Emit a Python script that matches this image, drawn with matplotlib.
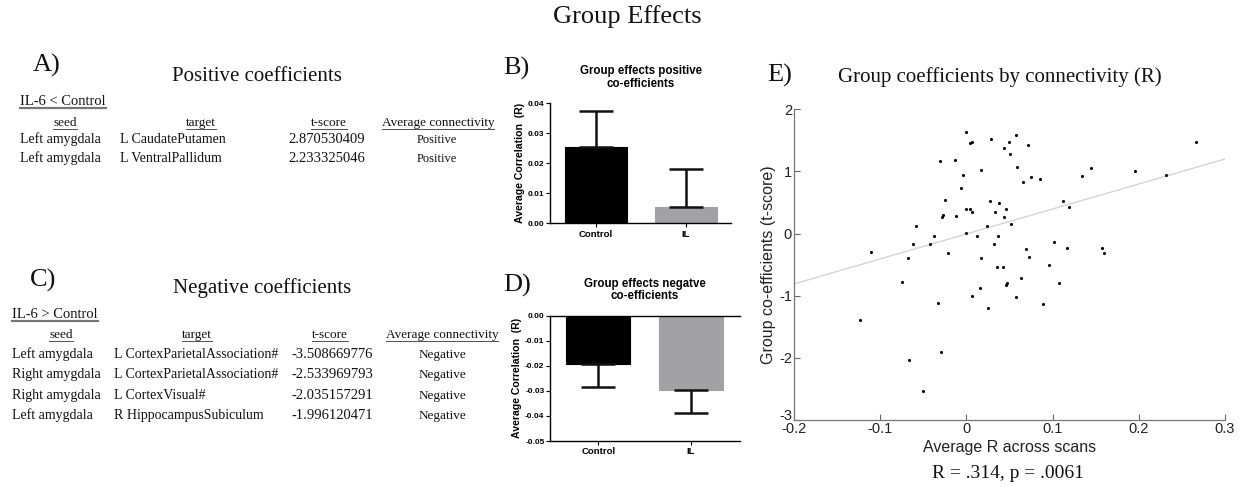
import matplotlib
matplotlib.use("Agg")
import matplotlib.pyplot as plt
from matplotlib.lines import Line2D
import matplotlib.transforms as mtransforms
import numpy as np

W, H = 1245, 487
DPI = 100

# ---------------- data ----------------
pos_group = "IL-6 < Control"
pos_headers = ["seed", "target", "t-score", "Average connectivity"]
pos_seed = ["Left amygdala", "Left amygdala"]
pos_target = ["L CaudatePutamen", "L VentralPallidum"]
pos_t = ["2.870530409", "2.233325046"]
pos_conn = ["Positive", "Positive"]

neg_group = "IL-6 > Control"
neg_seed = ["Left amygdala", "Right amygdala", "Right amygdala", "Left amygdala"]
neg_target = ["L CortexParietalAssociation#", "L CortexParietalAssociation#",
              "L CortexVisual#", "R HippocampusSubiculum"]
neg_t = ["-3.508669776", "-2.533969793", "-2.035157291", "-1.996120471"]
neg_conn = ["Negative", "Negative", "Negative", "Negative"]

bar_groups = ["Control", "IL"]
pos_means = [0.0253, 0.0054]
pos_err = [0.0121, 0.0128]
neg_means = [-0.0193, -0.0297]
neg_err = [0.0093, 0.0093]

scatter_x = [-0.111, -0.068, -0.075, -0.062, -0.059, -0.042, -0.038, -0.031, -0.028, -0.027,
             -0.025, -0.021, -0.013, -0.012, -0.006, -0.004, -0.001, -0.001, -0.001, 0.004,
             0.006, 0.004, 0.007, 0.012, 0.016, 0.017, 0.017, 0.024, 0.027, 0.028,
             0.032, 0.033, 0.036, 0.037, 0.038, 0.043, 0.044, 0.044, 0.046, 0.047,
             0.046, 0.049, 0.051, 0.052, 0.057, 0.059, 0.063, 0.066, 0.069, 0.071,
             0.073, 0.075, 0.085, 0.096, 0.102, 0.107, 0.112, 0.117, 0.119, 0.134,
             0.144, 0.157, 0.160, 0.196, 0.232, 0.266,
             -0.033, 0.006, 0.025, 0.057, 0.089, -0.123, -0.067, -0.029, -0.050]
scatter_y = [-0.29, -0.39, -0.785, -0.16, 0.13, -0.17, -0.04, 1.17, 0.27, 0.30,
             0.54, -0.31, 1.19, 0.28, 0.74, 0.94, 1.63, 0.40, 0.01, 1.45,
             1.48, 0.39, 0.34, -0.04, -0.87, 1.02, -0.39, 0.13, 0.53, 1.52,
             -0.17, 0.34, -0.53, -0.04, 0.49, -0.53, 1.38, 0.26, 0.40, -0.79,
             -0.83, 1.47, 1.28, 0.15, 1.58, 1.07, -0.72, 0.83, -0.25, 1.42,
             -0.38, 0.91, 0.88, -0.51, -0.13, -0.80, 0.52, -0.23, 0.42, 0.93,
             1.06, -0.24, -0.31, 1.00, 0.94, 1.47,
             -1.11, -1.01, -1.19, -1.02, -1.13, -1.39, -2.04, -1.91, -2.54]
fit_slope = 4.02
fit_intercept = -0.006
x_ticks = [-0.2, -0.1, 0, 0.1, 0.2, 0.3]
x_ticklabels = ["-0.2", "-0.1", "0", "0.1", "0.2", "0.3"]
y_ticks = [-3, -2, -1, 0, 1, 2]

# ---------------- figure ----------------
fig = plt.figure(figsize=(W / DPI, H / DPI), dpi=DPI)
fig.patch.set_facecolor("white")

SERIF = ["Liberation Serif", "DejaVu Serif"]
SANS = ["Liberation Sans", "DejaVu Sans"]


def fx(x):
    return x / W


def fy(y):
    return 1 - y / H


def ax_px(l, t, r, b):
    return fig.add_axes([l / W, 1 - b / H, (r - l) / W, (b - t) / H])


def txt(x, y, s, size, ha="left", family=SERIF, **kw):
    return fig.text(fx(x), fy(y), s, fontsize=size, ha=ha, va="baseline",
                    family=family, color="#111111", **kw)


underline = []

# Main title
txt(627, 23, "Group Effects", 19, ha="center")

# ---------- Table A ----------
txt(33, 72, "A)", 19)
txt(257, 81, "Positive coefficients", 15, ha="center")
underline.append((txt(20, 105, pos_group, 10.5), 105, "#777777", 1.6))
hdr_x = [65, 201, 329, 438]
for hx, h in zip(hdr_x, pos_headers):
    underline.append((txt(hx, 126, h, 9.5, ha="center"), 126, "#333333", 0.6))
for i in range(len(pos_seed)):
    yb = 143 + i * 19
    txt(20, yb, pos_seed[i], 10)
    txt(120, yb, pos_target[i], 10)
    txt(288, yb, pos_t[i], 10.5)
    txt(437, yb, pos_conn[i], 9, ha="center")

# ---------- Table C ----------
txt(30, 287, "C)", 19)
txt(262, 293, "Negative coefficients", 15, ha="center")
underline.append((txt(12, 318, neg_group, 10.5), 318, "#777777", 1.6))
hdr_x2 = [61, 197, 330, 442]
for hx, h in zip(hdr_x2, pos_headers):
    underline.append((txt(hx, 338, h, 9.5, ha="center"), 338, "#333333", 0.6))
for i in range(len(neg_seed)):
    yb = 358 + i * 20.3
    txt(12, yb, neg_seed[i], 10)
    txt(114, yb, neg_target[i], 10)
    txt(292, yb, neg_t[i], 10.5)
    txt(442, yb, neg_conn[i], 9.5, ha="center")

# ---------- Bar charts ----------
BAR_COLORS = ["#000000", "#a2a2a5"]


def bar_chart(ax, means, errs, ylim, yticks, title, negative, xlim, pad):
    xs = np.arange(len(bar_groups))
    ax.bar(xs, means, width=0.69, color=BAR_COLORS, edgecolor=["black", "#a2a2a5"],
           linewidth=0.8, zorder=2)
    for x, m, e in zip(xs, means, errs):
        yerr = [[e], [0]] if negative else [[0], [e]]
        ax.errorbar([x], [m], yerr=yerr, fmt="none", ecolor="#111111",
                    elinewidth=1.8, capsize=12.5, capthick=1.8, zorder=3)
    ax.set_xlim(*xlim)
    ax.set_ylim(*ylim)
    ax.set_yticks(yticks)
    ax.set_yticklabels([f"{v:.2f}" for v in yticks])
    ax.set_xticks(xs)
    ax.set_xticklabels(bar_groups)
    for lab in ax.get_xticklabels() + ax.get_yticklabels():
        lab.set_fontweight("bold")
        lab.set_family(SANS)
    ax.tick_params(axis="y", labelsize=6, length=3, width=0.8, pad=1)
    ax.tick_params(axis="x", labelsize=6.8, length=3, width=0.8, pad=1.5)
    ax.spines["right"].set_visible(False)
    ax.spines["top"].set_visible(negative)
    for s in ax.spines.values():
        s.set_linewidth(1.0)
    ax.set_ylabel("Average Correlation  (R)", fontsize=7.6, fontweight="bold",
                  family=SANS, labelpad=2)
    ax.set_title(title, fontsize=8.3, fontweight="bold", family=SANS, pad=pad,
                 linespacing=1.05)
    ax.set_facecolor("white")


axB = ax_px(550, 103.3, 731, 223.3)
bar_chart(axB, pos_means, pos_err, (0, 0.04), [0, 0.01, 0.02, 0.03, 0.04],
          "Group effects positive\nco-efficients", False, (-0.51, 1.5), 12)
axD = ax_px(550, 315.7, 740, 441)
bar_chart(axD, neg_means, neg_err, (-0.05, 0), [-0.05, -0.04, -0.03, -0.02, -0.01, 0.0],
          "Group effects negatve\nco-efficients", True, (-0.52, 1.53), 12)

txt(503, 75, "B)", 19)
txt(503, 292, "D)", 19)

# ---------- Scatter E ----------
axE = ax_px(794, 109.3, 1225, 420)
axE.scatter(scatter_x, scatter_y, s=5, color="black", zorder=3, linewidths=0)
xl = np.array([-0.2, 0.3])
axE.plot(xl, fit_slope * xl + fit_intercept, color="#d4d4d4", lw=1, zorder=2)
axE.set_xlim(-0.2, 0.3)
axE.set_ylim(-3, 2)
axE.set_xticks(x_ticks)
axE.set_xticklabels(x_ticklabels)
axE.set_yticks(y_ticks)
axE.set_yticklabels([str(v) for v in y_ticks])
axE.tick_params(direction="in", length=4, width=0.8, color="#666666",
                labelsize=10.5, pad=1.5, labelcolor="#222222")
for lab in axE.get_xticklabels() + axE.get_yticklabels():
    lab.set_family(SANS)
# the lowest y label sits just above the first x label
ylabs = axE.get_yticklabels()
ylabs[0].set_transform(ylabs[0].get_transform() +
                       mtransforms.ScaledTranslation(0, 4 / 72, fig.dpi_scale_trans))
axE.spines["right"].set_visible(False)
axE.spines["top"].set_visible(False)
for s in ("left", "bottom"):
    axE.spines[s].set_color("#777777")
    axE.spines[s].set_linewidth(0.9)
axE.set_xlabel("Average R across scans", fontsize=11.5, family=SANS,
               color="#222222", labelpad=3)
axE.set_ylabel("Group co-efficients (t-score)", fontsize=11.5, family=SANS,
               color="#222222", labelpad=2)
txt(767, 82, "E)", 19)
txt(1000, 82, "Group coefficients by connectivity (R)", 15, ha="center")
txt(1008, 478, "R = .314, p = .0061", 14, ha="center")

# ---------- underlines ----------
fig.canvas.draw()
renderer = fig.canvas.get_renderer()
for t, yb, col, lw in underline:
    bb = t.get_window_extent(renderer)
    ypix = H - (yb + 2.5)
    fig.add_artist(Line2D([bb.x0 / W, bb.x1 / W], [ypix / H, ypix / H],
                          transform=fig.transFigure, color=col, lw=lw))

fig.savefig("out.png", dpi=DPI)
